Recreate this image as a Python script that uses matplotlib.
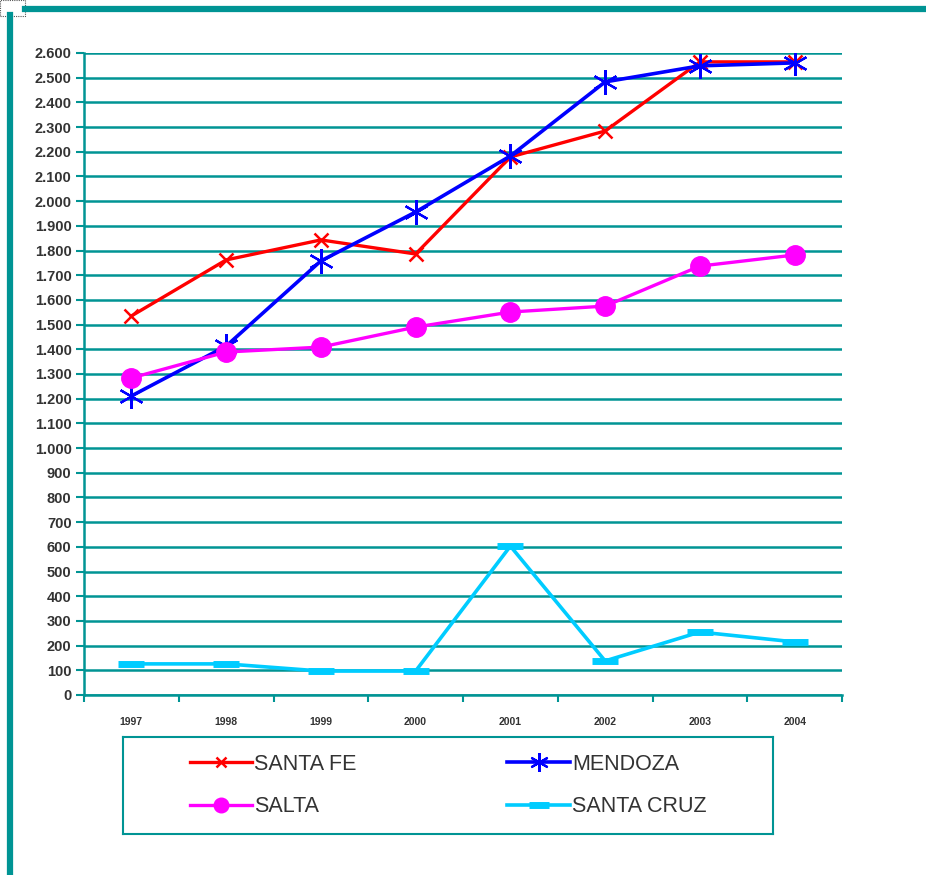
import matplotlib
matplotlib.use("Agg")
import matplotlib.pyplot as plt
from matplotlib.lines import Line2D
from matplotlib.patches import Rectangle

years = ["1997", "1998", "1999", "2000", "2001", "2002", "2003", "2004"]
santa_fe = [1535, 1762, 1843, 1786, 2179, 2284, 2564, 2564]
mendoza = [1211, 1413, 1758, 1956, 2183, 2483, 2548, 2560]
salta = [1284, 1389, 1409, 1490, 1551, 1575, 1737, 1782]
santa_cruz = [126, 126, 97, 97, 603, 138, 255, 215]
y_ticks = list(range(0, 2601, 100))
y_tick_labels = [f"{v:,}".replace(",", ".") for v in y_ticks]

TEAL = "#009494"
TXT = "#333333"
FONT = "Liberation Sans"

W, H = 926, 875
fig = plt.figure(figsize=(W / 100, H / 100), dpi=100)

ax = fig.add_axes([84 / W, 1 - 695 / H, (842 - 84) / W, (695 - 53) / H])
x = list(range(len(years)))

l_sf, = ax.plot(x, santa_fe, color="#FF0000", lw=2.4, marker="x", ms=10, mew=1.8,
                label="SANTA FE", zorder=3)
l_me, = ax.plot(x, mendoza, color="#0000FF", lw=2.6, marker=(6, 2, 0), ms=18,
                mew=1.6, label="MENDOZA", zorder=4)
l_sa, = ax.plot(x, salta, color="#FF00FF", lw=2.4, marker="o", ms=14,
                label="SALTA", zorder=5)
l_sc, = ax.plot(x, santa_cruz, color="#00CCFF", lw=2.6, marker="_", ms=19, mew=5,
                label="SANTA CRUZ", zorder=3)

ax.set_xlim(-0.5, len(years) - 0.5)
ax.set_ylim(0, 2600)
ax.set_yticks(y_ticks)
ax.set_yticklabels(y_tick_labels, fontfamily=FONT, fontweight="bold",
                   fontsize=10.5, color=TXT)
ax.set_xticks(x)
ax.set_xticklabels(years, fontfamily=FONT, fontweight="bold", fontsize=7.5,
                   color=TXT)
ax.set_xticks([i - 0.5 for i in range(len(years) + 1)], minor=True)
ax.tick_params(axis="x", which="major", length=0, pad=16)
ax.tick_params(axis="x", which="minor", length=5, width=1.5, color=TEAL,
               direction="out")
ax.tick_params(axis="y", length=6, width=1.5, color=TEAL, direction="out",
               pad=3)
ax.grid(axis="y", color=TEAL, lw=1.8, zorder=1)
ax.set_axisbelow(True)
for s in ["top", "right"]:
    ax.spines[s].set_visible(False)
for s in ["left", "bottom"]:
    ax.spines[s].set_color(TEAL)
    ax.spines[s].set_linewidth(1.8)

# legend box
lax = fig.add_axes([123 / W, 1 - 834 / H, (773 - 123) / W, (834 - 737) / H])
lax.set_xticks([])
lax.set_yticks([])
for s in lax.spines.values():
    s.set_color(TEAL)
    s.set_linewidth(1.5)
handles = [l_sf, l_sa, l_me, l_sc]
labels = [h.get_label() for h in handles]
leg = lax.legend(handles, labels, loc="center", ncol=2, frameon=False,
                 prop={"family": FONT, "size": 15.5}, handlelength=2.9,
                 handletextpad=0.1, columnspacing=7.0, labelspacing=1.0,
                 markerscale=0.75)
for t in leg.get_texts():
    t.set_color(TXT)

# page frame decorations
fig.add_artist(Line2D([10 / W, 10 / W], [0, 1 - 15 / H], color=TEAL, lw=4.5,
                      transform=fig.transFigure))
fig.add_artist(Line2D([25 / W, 1], [1 - 9 / H, 1 - 9 / H], color=TEAL, lw=4.5,
                      transform=fig.transFigure))
fig.add_artist(Rectangle((0, 1 - 16 / H), 25 / W, 16 / H, fill=False,
                         ls=(0, (1, 1)), lw=0.8, ec="#555555",
                         transform=fig.transFigure))

fig.savefig("out.png", dpi=100)
